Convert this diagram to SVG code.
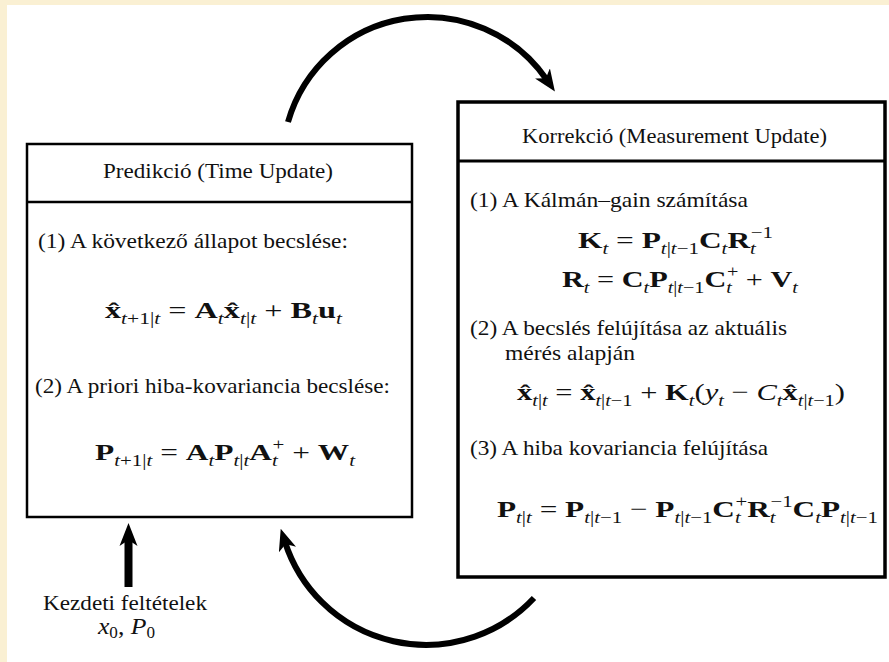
<svg xmlns="http://www.w3.org/2000/svg" width="889" height="662" viewBox="0 0 889 662">
<style>
.t{font-family:"Liberation Serif","Times New Roman",serif;font-size:21px;fill:#111}
.m{font-family:"Liberation Serif","Times New Roman",serif;font-size:24px;fill:#111}
.b{font-weight:bold}
.s{font-size:16px;font-style:italic;font-weight:normal}
.u{font-style:normal}
.i{font-style:italic}
.box{fill:#fff;stroke:#000}
.arc{fill:none;stroke:#000;stroke-width:6}
</style>
<defs>
<marker id="ah" markerUnits="userSpaceOnUse" viewBox="0 0 22 18" markerWidth="22" markerHeight="18" refX="8" refY="9" orient="auto">
<path d="M0,0 L22,9 L0,18 L6,9 Z" fill="#000"/>
</marker>
</defs>
<rect x="0" y="0" width="889" height="662" fill="#faf0d3"/>
<rect x="7" y="5" width="882" height="657" fill="#fff"/>

<g id="prediction">
<rect class="box" x="27" y="144" width="385" height="373" stroke-width="2.5"/>
<line x1="27" y1="202" x2="412" y2="202" stroke="#000" stroke-width="2.5"/>
<text class="t" x="103" y="178" textLength="230" lengthAdjust="spacingAndGlyphs">Predikció (Time Update)</text>
<text class="t" x="38" y="248" textLength="310" lengthAdjust="spacingAndGlyphs">(1) A következő állapot becslése:</text>
<text class="m" x="105" y="318" textLength="237" lengthAdjust="spacingAndGlyphs"><tspan class="b">x̂</tspan><tspan class="s" dy="6">t<tspan class="u">+1|</tspan>t</tspan><tspan dy="-6"> = </tspan><tspan class="b">A</tspan><tspan class="s" dy="6">t</tspan><tspan class="b" dy="-6">x̂</tspan><tspan class="s" dy="6">t<tspan class="u">|</tspan>t</tspan><tspan dy="-6"> + </tspan><tspan class="b">B</tspan><tspan class="s" dy="6">t</tspan><tspan class="b" dy="-6">u</tspan><tspan class="s" dy="6">t</tspan></text>
<text class="t" x="35" y="393" textLength="355" lengthAdjust="spacingAndGlyphs">(2) A priori hiba-kovariancia becslése:</text>
<text class="m" x="95" y="460" textLength="260" lengthAdjust="spacingAndGlyphs"><tspan class="b">P</tspan><tspan class="s" dy="6">t<tspan class="u">+1|</tspan>t</tspan><tspan dy="-6"> = </tspan><tspan class="b">A</tspan><tspan class="s" dy="6">t</tspan><tspan class="b" dy="-6">P</tspan><tspan class="s" dy="6">t<tspan class="u">|</tspan>t</tspan><tspan class="b" dy="-6">A</tspan><tspan class="s" dy="6">t</tspan><tspan class="s u" dx="-4" dy="-16">+</tspan><tspan dy="10"> + </tspan><tspan class="b">W</tspan><tspan class="s" dy="6">t</tspan></text>
</g>

<g id="correction">
<rect class="box" x="458" y="102" width="427" height="475" stroke-width="3.5"/>
<line x1="458" y1="161" x2="885" y2="161" stroke="#000" stroke-width="3"/>
<text class="t" x="522" y="143" textLength="305" lengthAdjust="spacingAndGlyphs">Korrekció (Measurement Update)</text>
<text class="t" x="470" y="207" textLength="278" lengthAdjust="spacingAndGlyphs">(1) A Kálmán–gain számítása</text>
<text class="m" x="578" y="248" textLength="195" lengthAdjust="spacingAndGlyphs"><tspan class="b">K</tspan><tspan class="s" dy="6">t</tspan><tspan dy="-6"> = </tspan><tspan class="b">P</tspan><tspan class="s" dy="6">t<tspan class="u">|</tspan>t<tspan class="u">−1</tspan></tspan><tspan class="b" dy="-6">C</tspan><tspan class="s" dy="6">t</tspan><tspan class="b" dy="-6">R</tspan><tspan class="s" dy="6">t</tspan><tspan class="s u" dx="-4" dy="-16">−1</tspan></text>
<text class="m" x="562" y="287" textLength="236" lengthAdjust="spacingAndGlyphs"><tspan class="b">R</tspan><tspan class="s" dy="6">t</tspan><tspan dy="-6"> = </tspan><tspan class="b">C</tspan><tspan class="s" dy="6">t</tspan><tspan class="b" dy="-6">P</tspan><tspan class="s" dy="6">t<tspan class="u">|</tspan>t<tspan class="u">−1</tspan></tspan><tspan class="b" dy="-6">C</tspan><tspan class="s" dy="6">t</tspan><tspan class="s u" dx="-4" dy="-16">+</tspan><tspan dy="10"> + </tspan><tspan class="b">V</tspan><tspan class="s" dy="6">t</tspan></text>
<text class="t" x="470" y="335" textLength="317" lengthAdjust="spacingAndGlyphs">(2) A becslés felújítása az aktuális</text>
<text class="t" x="505" y="360" textLength="130" lengthAdjust="spacingAndGlyphs">mérés alapján</text>
<text class="m" x="517" y="400" textLength="328" lengthAdjust="spacingAndGlyphs"><tspan class="b">x̂</tspan><tspan class="s" dy="6">t<tspan class="u">|</tspan>t</tspan><tspan dy="-6"> = </tspan><tspan class="b">x̂</tspan><tspan class="s" dy="6">t<tspan class="u">|</tspan>t<tspan class="u">−1</tspan></tspan><tspan dy="-6"> + </tspan><tspan class="b">K</tspan><tspan class="s" dy="6">t</tspan><tspan dy="-6">(</tspan><tspan class="i">y</tspan><tspan class="s" dy="6">t</tspan><tspan dy="-6"> − </tspan><tspan class="i">C</tspan><tspan class="s" dy="6">t</tspan><tspan class="b" dy="-6">x̂</tspan><tspan class="s" dy="6">t<tspan class="u">|</tspan>t<tspan class="u">−1</tspan></tspan><tspan dy="-6">)</tspan></text>
<text class="t" x="470" y="455" textLength="298" lengthAdjust="spacingAndGlyphs">(3) A hiba kovariancia felújítása</text>
<text class="m" x="497" y="517" textLength="381" lengthAdjust="spacingAndGlyphs"><tspan class="b">P</tspan><tspan class="s" dy="6">t<tspan class="u">|</tspan>t</tspan><tspan dy="-6"> = </tspan><tspan class="b">P</tspan><tspan class="s" dy="6">t<tspan class="u">|</tspan>t<tspan class="u">−1</tspan></tspan><tspan dy="-6"> − </tspan><tspan class="b">P</tspan><tspan class="s" dy="6">t<tspan class="u">|</tspan>t<tspan class="u">−1</tspan></tspan><tspan class="b" dy="-6">C</tspan><tspan class="s" dy="6">t</tspan><tspan class="s u" dx="-4" dy="-16">+</tspan><tspan class="b" dy="10">R</tspan><tspan class="s" dy="6">t</tspan><tspan class="s u" dx="-4" dy="-16">−1</tspan><tspan class="b" dy="10">C</tspan><tspan class="s" dy="6">t</tspan><tspan class="b" dy="-6">P</tspan><tspan class="s" dy="6">t<tspan class="u">|</tspan>t<tspan class="u">−1</tspan></tspan></text>
</g>

<g id="initial">
<text class="t" x="43" y="610" textLength="164" lengthAdjust="spacingAndGlyphs">Kezdeti feltételek</text>
<text class="m" x="98" y="634" textLength="57" lengthAdjust="spacingAndGlyphs"><tspan class="i">x</tspan><tspan class="s u" dy="4">0</tspan><tspan dy="-4">, </tspan><tspan class="i">P</tspan><tspan class="s u" dy="4">0</tspan></text>
</g>

<g id="connectors">
<path class="arc" d="M288,122 A145,145 0 0 1 547,80" marker-end="url(#ah)"/>
<path class="arc" d="M534,598 A148,148 0 0 1 285,542" marker-end="url(#ah)"/>
<rect x="124.5" y="538" width="8" height="49" fill="#000"/>
<path d="M128.5,523 L137.5,546 L128.5,540 L119.5,546 Z" fill="#000"/>
</g>
</svg>
